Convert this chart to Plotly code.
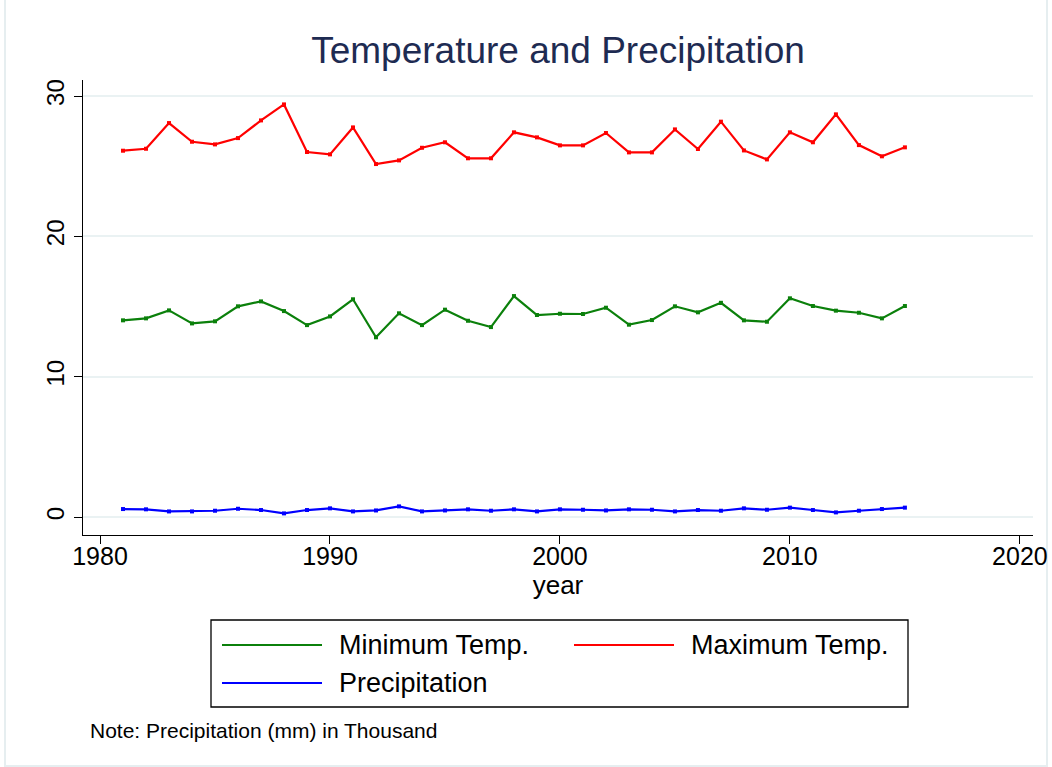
import plotly.graph_objects as go

years = list(range(1981, 2016))

min_temp = [14.02, 14.16, 14.73, 13.80, 13.95, 15.02, 15.37, 14.68, 13.68, 14.30,
            15.52, 12.81, 14.52, 13.68, 14.78, 13.99, 13.54, 15.75, 14.40, 14.49,
            14.47, 14.92, 13.71, 14.04, 15.02, 14.59, 15.27, 14.02, 13.92, 15.59,
            15.04, 14.71, 14.56, 14.16, 15.04]

max_temp = [26.11, 26.25, 28.08, 26.75, 26.56, 27.01, 28.27, 29.41, 26.02, 25.85,
            27.77, 25.16, 25.42, 26.32, 26.71, 25.57, 25.57, 27.42, 27.06, 26.49,
            26.49, 27.37, 25.99, 25.99, 27.63, 26.23, 28.18, 26.13, 25.49, 27.42,
            26.71, 28.70, 26.51, 25.71, 26.35]

precip = [0.57, 0.55, 0.40, 0.40, 0.45, 0.59, 0.50, 0.26, 0.50, 0.62,
          0.40, 0.47, 0.76, 0.40, 0.47, 0.55, 0.45, 0.55, 0.40, 0.55,
          0.52, 0.47, 0.55, 0.52, 0.40, 0.50, 0.45, 0.62, 0.52, 0.67,
          0.50, 0.33, 0.45, 0.57, 0.67]

series_names = ["Minimum Temp.", "Maximum Temp.", "Precipitation"]
series_colors = ["#0b800b", "#ff0000", "#0000ff"]
series_values = [min_temp, max_temp, precip]

x_ticks = [1980, 1990, 2000, 2010, 2020]
y_ticks = [0, 10, 20, 30]

FONT = "Liberation Sans, Arial, sans-serif"

W, H = 1052, 767
L, R, T, B = 83, 1033, 80, 535  # plot area in pixels


def px_x(p):
    return (p - L) / (R - L)


def px_y(p):
    return (B - p) / (B - T)


fig = go.Figure()
for name, color, vals in zip(series_names, series_colors, series_values):
    fig.add_trace(go.Scatter(
        x=years, y=vals, name=name, mode="lines+markers",
        line=dict(color=color, width=2.2),
        marker=dict(color=color, size=4, symbol="square"),
        showlegend=False,
    ))

fig.update_layout(
    width=W, height=H,
    margin=dict(l=L, r=W - R, t=T, b=H - B, autoexpand=False),
    paper_bgcolor="white", plot_bgcolor="white",
    font=dict(family=FONT, color="black"),
    title=dict(text="Temperature and Precipitation", x=px_x(558), xref="paper",
               xanchor="center", y=1 - 50 / H, yref="container", yanchor="middle",
               font=dict(size=37, color="#1e2b52", family=FONT)),
)

fig.update_xaxes(
    range=[1979.26, 2020.57], tickvals=x_ticks, ticktext=[str(v) for v in x_ticks],
    showgrid=False, zeroline=False, showline=True, linecolor="black", linewidth=1.3,
    ticks="outside", ticklen=8, tickcolor="black", tickwidth=1.3,
    ticklabelstandoff=-9,
    tickfont=dict(size=25, family=FONT, color="black"),
    title=dict(text="year", font=dict(size=26, family=FONT, color="black"), standoff=3),
)
fig.update_yaxes(
    range=[-1.28, 31.15], tickvals=y_ticks, ticktext=[str(v) for v in y_ticks],
    showgrid=True, gridcolor="#eaf2f3", gridwidth=1.5, zeroline=False,
    showline=True, linecolor="black", linewidth=1.3,
    ticks="outside", ticklen=8, tickcolor="black", tickwidth=1.3,
    tickangle=-90,
    tickfont=dict(size=24, family=FONT, color="black"),
)

# outer graph region border (Stata style)
fig.add_shape(type="rect", xref="paper", yref="paper",
              x0=px_x(5), x1=px_x(1047), y0=px_y(766), y1=px_y(-3),
              line=dict(color="#e6eef0", width=2), fillcolor="rgba(0,0,0,0)", layer="below")

# legend box
fig.add_shape(type="rect", xref="paper", yref="paper",
              x0=px_x(211), x1=px_x(908), y0=px_y(707), y1=px_y(620),
              line=dict(color="black", width=1.3), fillcolor="white")

legend_pos = [(222, 645), (574, 645), (222, 683)]
for name, color, (lx, ly) in zip(series_names, series_colors, legend_pos):
    fig.add_shape(type="line", xref="paper", yref="paper",
                  x0=px_x(lx), x1=px_x(lx + 100), y0=px_y(ly), y1=px_y(ly),
                  line=dict(color=color, width=2.2))
    fig.add_annotation(text=name, xref="paper", yref="paper",
                       x=px_x(lx + 115), y=px_y(ly), xanchor="left", yanchor="middle",
                       showarrow=False, font=dict(size=27, family=FONT, color="black"))

fig.add_annotation(text="Note: Precipitation (mm) in Thousand", xref="paper", yref="paper",
                   x=px_x(88), y=px_y(730), xanchor="left", yanchor="middle",
                   showarrow=False, font=dict(size=21, family=FONT, color="black"))

fig.write_html("out.html", config={"displayModeBar": False},
               post_script="document.body.style.margin='0';document.body.style.overflow='hidden';")
